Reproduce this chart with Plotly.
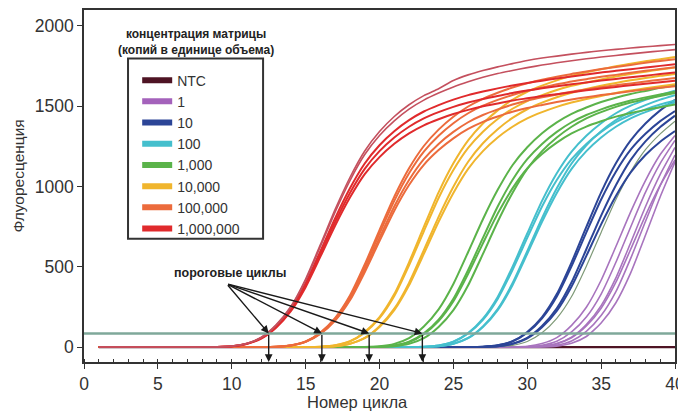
import plotly.graph_objects as go

# ---------------- data ----------------
cycles = list(range(1, 41))

groups = ["NTC", "1", "10", "100", "1,000", "10,000", "100,000", "1,000,000"]
group_colors = ["#4e1424", "#a462bb", "#2c4597", "#45bfcd", "#5bb34a", "#f0b52d", "#ec6b3c", "#e02a2c"]

threshold = 85
threshold_cycles = [12.5, 16.1, 19.3, 22.9]
label_anchor = [9.65, 394]

ntc_curves = [
    [0, 0, 0, 0, 0, 0, 0, 0, 0, 0, 0, 0, 0, 0, 0, 0, 0, 0, 0, 0,
     0, 0, 0, 0, 0, 0, 0, 0, 0, 0, 0, 0, 0, 0, 0, 0, 0, 0, 0, 0],
]

copies_1 = [
    [0, 0, 0, 0, 0, 0, 0, 0, 0, 0, 0, 0, 0, 0, 0, 0, 0, 0, 0, 0, 0, 0, 0, 0, 0, 0, 0, 0,
     1, 5, 22, 59, 135, 248, 416, 626, 842, 1037, 1199, 1318],
    [0, 0, 0, 0, 0, 0, 0, 0, 0, 0, 0, 0, 0, 0, 0, 0, 0, 0, 0, 0, 0, 0, 0, 0, 0, 0, 0, 0, 0,
     2, 11, 36, 94, 187, 330, 528, 748, 963, 1144, 1287],
    [0, 0, 0, 0, 0, 0, 0, 0, 0, 0, 0, 0, 0, 0, 0, 0, 0, 0, 0, 0, 0, 0, 0, 0, 0, 0, 0, 0, 0,
     1, 6, 22, 62, 140, 258, 431, 650, 874, 1075, 1243],
    [0, 0, 0, 0, 0, 0, 0, 0, 0, 0, 0, 0, 0, 0, 0, 0, 0, 0, 0, 0, 0, 0, 0, 0, 0, 0, 0, 0, 0, 0,
     2, 12, 38, 98, 196, 345, 552, 782, 1006, 1196],
    [0, 0, 0, 0, 0, 0, 0, 0, 0, 0, 0, 0, 0, 0, 0, 0, 0, 0, 0, 0, 0, 0, 0, 0, 0, 0, 0, 0, 0,
     1, 5, 21, 58, 131, 242, 404, 609, 819, 1008, 1166],
    [0, 0, 0, 0, 0, 0, 0, 0, 0, 0, 0, 0, 0, 0, 0, 0, 0, 0, 0, 0, 0, 0, 0, 0, 0, 0, 0, 0, 0, 0,
     1, 6, 24, 66, 150, 276, 462, 696, 936, 1152],
]

stray_curve = [0, 0, 0, 0, 0, 0, 0, 0, 0, 0, 0, 0, 0, 0, 0, 0, 0, 0, 0, 0, 0, 0, 0, 0, 0, 0, 0,
               2, 11, 35, 89, 179, 315, 504, 714, 919, 1092, 1229, 1328, 1407]

copies_10 = [
    [0, 0, 0, 0, 0, 0, 0, 0, 0, 0, 0, 0, 0, 0, 0, 0, 0, 0, 0, 0, 0, 0, 0, 0, 0, 0,
     2, 11, 35, 89, 179, 315, 504, 714, 919, 1092, 1229, 1328, 1407, 1470],
    [0, 0, 0, 0, 0, 0, 0, 0, 0, 0, 0, 0, 0, 0, 0, 0, 0, 0, 0, 0, 0, 0, 0, 0, 0, 0,
     2, 11, 36, 94, 187, 330, 528, 748, 963, 1144, 1287, 1392, 1474, 1540],
    [0, 0, 0, 0, 0, 0, 0, 0, 0, 0, 0, 0, 0, 0, 0, 0, 0, 0, 0, 0, 0, 0, 0, 0, 0, 0,
     1, 5, 21, 58, 131, 242, 404, 609, 819, 1008, 1166, 1281, 1370, 1441],
    [0, 0, 0, 0, 0, 0, 0, 0, 0, 0, 0, 0, 0, 0, 0, 0, 0, 0, 0, 0, 0, 0, 0, 0, 0, 0,
     1, 5, 20, 54, 123, 225, 377, 568, 764, 941, 1088, 1196, 1279, 1345],
]

copies_100 = [
    [0, 0, 0, 0, 0, 0, 0, 0, 0, 0, 0, 0, 0, 0, 0, 0, 0, 0, 0, 0, 0, 0,
     2, 10, 33, 85, 170, 300, 480, 680, 875, 1040, 1170, 1265, 1340, 1400, 1445, 1480, 1510, 1535],
    [0, 0, 0, 0, 0, 0, 0, 0, 0, 0, 0, 0, 0, 0, 0, 0, 0, 0, 0, 0, 0, 0,
     1, 5, 21, 57, 129, 237, 397, 597, 803, 989, 1143, 1257, 1344, 1413, 1467, 1507, 1541, 1569],
    [0, 0, 0, 0, 0, 0, 0, 0, 0, 0, 0, 0, 0, 0, 0, 0, 0, 0, 0, 0, 0, 0,
     1, 5, 20, 55, 125, 230, 385, 580, 780, 960, 1110, 1220, 1305, 1372, 1424, 1463, 1496, 1523],
    [0, 0, 0, 0, 0, 0, 0, 0, 0, 0, 0, 0, 0, 0, 0, 0, 0, 0, 0, 0, 0, 0,
     2, 10, 34, 88, 177, 312, 499, 707, 910, 1082, 1217, 1316, 1394, 1456, 1503, 1539, 1570, 1596],
]

copies_1000 = [
    [0, 0, 0, 0, 0, 0, 0, 0, 0, 0, 0, 0, 0, 0, 0, 0, 0, 0, 0,
     2, 10, 33, 85, 170, 300, 480, 680, 875, 1040, 1170, 1265, 1340, 1400, 1445, 1480, 1510, 1535,
     1555, 1573, 1590],
    [0, 0, 0, 0, 0, 0, 0, 0, 0, 0, 0, 0, 0, 0, 0, 0, 0, 0, 0,
     2, 10, 31, 81, 162, 285, 456, 646, 831, 988, 1112, 1202, 1273, 1330, 1373, 1406, 1435, 1458,
     1477, 1494, 1511],
    [0, 0, 0, 0, 0, 0, 0, 0, 0, 0, 0, 0, 0, 0, 0, 0, 0, 0,
     1, 5, 20, 56, 128, 235, 393, 592, 796, 979, 1132, 1244, 1331, 1399, 1452, 1492, 1526, 1553,
     1576, 1595, 1614, 1629],
    [0, 0, 0, 0, 0, 0, 0, 0, 0, 0, 0, 0, 0, 0, 0, 0, 0, 0, 0,
     1, 5, 20, 55, 125, 230, 385, 580, 780, 960, 1110, 1220, 1305, 1372, 1424, 1463, 1496, 1523,
     1545, 1564, 1582],
]

copies_10000 = [
    [0, 0, 0, 0, 0, 0, 0, 0, 0, 0, 0, 0, 0, 0, 0,
     2, 11, 35, 90, 180, 318, 509, 721, 928, 1102, 1240, 1341, 1420, 1484, 1532, 1569, 1601, 1627,
     1648, 1667, 1685, 1700, 1715, 1728, 1741],
    [0, 0, 0, 0, 0, 0, 0, 0, 0, 0, 0, 0, 0, 0, 0,
     2, 11, 36, 94, 187, 330, 528, 748, 963, 1144, 1287, 1392, 1474, 1540, 1590, 1628, 1661, 1689,
     1711, 1730, 1749, 1764, 1780, 1793, 1806],
    [0, 0, 0, 0, 0, 0, 0, 0, 0, 0, 0, 0, 0, 0, 0,
     1, 5, 21, 57, 130, 239, 400, 603, 811, 998, 1154, 1269, 1357, 1427, 1481, 1522, 1556, 1584,
     1607, 1627, 1645, 1661, 1675, 1689, 1701],
    [0, 0, 0, 0, 0, 0, 0, 0, 0, 0, 0, 0, 0, 0, 0,
     1, 5, 20, 55, 125, 230, 385, 580, 780, 960, 1110, 1220, 1305, 1372, 1424, 1463, 1496, 1523,
     1545, 1564, 1582, 1597, 1611, 1624, 1636],
]

copies_100000 = [
    [0, 0, 0, 0, 0, 0, 0, 0, 0, 0, 0, 0,
     2, 10, 33, 85, 170, 300, 480, 680, 875, 1040, 1170, 1265, 1340, 1400, 1445, 1480, 1510, 1535,
     1555, 1573, 1590, 1604, 1618, 1630, 1642, 1654, 1665, 1675],
    [0, 0, 0, 0, 0, 0, 0, 0, 0, 0, 0, 0,
     2, 10, 34, 88, 177, 312, 499, 707, 910, 1082, 1217, 1316, 1394, 1456, 1503, 1539, 1570, 1596,
     1617, 1636, 1654, 1668, 1683, 1695, 1708, 1720, 1732, 1742],
    [0, 0, 0, 0, 0, 0, 0, 0, 0, 0, 0, 0,
     2, 11, 35, 91, 182, 321, 514, 728, 936, 1113, 1252, 1354, 1434, 1498, 1546, 1584, 1616, 1642,
     1664, 1683, 1701, 1716, 1731, 1744, 1757, 1770, 1782, 1792],
    [0, 0, 0, 0, 0, 0, 0, 0, 0, 0, 0, 0,
     2, 10, 32, 82, 165, 291, 466, 660, 849, 1009, 1135, 1227, 1300, 1358, 1402, 1436, 1465, 1489,
     1508, 1526, 1542, 1556, 1569, 1581, 1593, 1604, 1615, 1625],
]

copies_1000000 = [
    [0, 0, 0, 0, 0, 0, 0, 0,
     1, 5, 20, 55, 125, 230, 385, 580, 780, 960, 1110, 1220, 1305, 1372, 1424, 1463, 1496, 1523,
     1545, 1564, 1582, 1597, 1611, 1624, 1636, 1648, 1660, 1670, 1680, 1690, 1700, 1710],
    [0, 0, 0, 0, 0, 0, 0, 0,
     1, 5, 19, 53, 121, 223, 373, 563, 757, 931, 1077, 1183, 1266, 1331, 1381, 1419, 1451, 1477,
     1499, 1517, 1535, 1549, 1563, 1575, 1587, 1599, 1610, 1620, 1630, 1639, 1649, 1659],
    [0, 0, 0, 0, 0, 0, 0, 0,
     1, 5, 21, 57, 129, 237, 397, 597, 803, 989, 1143, 1257, 1344, 1413, 1467, 1507, 1541, 1569,
     1591, 1611, 1629, 1645, 1659, 1673, 1685, 1697, 1710, 1720, 1730, 1741, 1751, 1761],
]

copies_1000000_upper = [
    [0, 0, 0, 0, 0, 0, 0, 0,
     1, 5, 22, 59, 135, 248, 416, 626, 842, 1037, 1199, 1318, 1409, 1482, 1538, 1582, 1620, 1652,
     1680, 1703, 1722, 1740, 1756, 1770, 1783, 1795, 1806, 1816, 1826, 1835, 1844, 1852],
    [0, 0, 0, 0, 0, 0, 0, 0,
     1, 6, 22, 61, 138, 253, 424, 638, 858, 1056, 1221, 1342, 1436, 1509, 1566, 1609, 1660, 1695,
     1722, 1745, 1765, 1785, 1800, 1812, 1824, 1835, 1845, 1854, 1862, 1870, 1877, 1884],
]

# ---------------- figure ----------------
FONT = "Liberation Sans, Arial, Helvetica, sans-serif"
AX = "#333333"
fig = go.Figure()

# legend entries (thick swatches)
for name, col in zip(groups, group_colors):
    fig.add_trace(go.Scatter(x=[None], y=[None], mode="lines", name=name,
                             line=dict(color=col, width=6), hoverinfo="skip"))


def add_curves(curves, color, width=1.8, opacity=1.0):
    for ys in curves:
        fig.add_trace(go.Scatter(x=cycles, y=ys, mode="lines", showlegend=False,
                                 line=dict(color=color, width=width, shape="spline", smoothing=0.6),
                                 opacity=opacity, hoverinfo="skip"))


add_curves(ntc_curves, group_colors[0], width=2.2)
add_curves(copies_1, "#a874be", width=1.6)
add_curves([stray_curve], "#7f9a78", width=1.2)
add_curves(copies_10, group_colors[2], width=2.0)
add_curves(copies_100, group_colors[3], width=2.0)
add_curves(copies_1000, group_colors[4], width=2.0)
add_curves(copies_10000, group_colors[5], width=2.0)
add_curves(copies_100000, group_colors[6], width=2.0)
add_curves(copies_1000000, group_colors[7], width=2.0)
add_curves(copies_1000000_upper, "#c4505e", width=1.6)

# threshold line
fig.add_shape(type="line", xref="x", yref="y", x0=0, x1=40, y0=threshold, y1=threshold,
              line=dict(color="#7fa89a", width=2.5), layer="above")

# arrows to threshold cycles
for ct in threshold_cycles:
    fig.add_annotation(x=ct, y=threshold, ax=label_anchor[0], ay=label_anchor[1],
                       xref="x", yref="y", axref="x", ayref="y", text="", showarrow=True,
                       arrowhead=2, arrowsize=1.1, arrowwidth=1.4, arrowcolor="#1a1a1a", standoff=0)
    fig.add_annotation(x=ct, y=-93, ax=ct, ay=threshold,
                       xref="x", yref="y", axref="x", ayref="y", text="", showarrow=True,
                       arrowhead=2, arrowsize=1.1, arrowwidth=1.4, arrowcolor="#1a1a1a", standoff=0)

fig.add_annotation(x=9.9, y=460, xref="x", yref="y", text="<b>пороговые циклы</b>",
                   xanchor="center", yanchor="middle",
                   showarrow=False, font=dict(size=12.5, color="#222", family=FONT))

# legend title
fig.add_annotation(x=0.1895, y=0.910, xref="paper", yref="paper",
                   text="<b>концентрация матрицы<br>(копий в единице объема)</b>",
                   xanchor="center", yanchor="middle",
                   showarrow=False, font=dict(size=12, color="#222", family=FONT))

# legend box
fig.add_shape(type="rect", xref="paper", yref="paper", x0=0.0745, x1=0.303, y0=0.350, y1=0.862,
              line=dict(color=AX, width=2), fillcolor="rgba(0,0,0,0)")

# axis titles
fig.add_annotation(x=0.462, y=-0.113, xref="paper", yref="paper", text="Номер цикла",
                   xanchor="center", yanchor="middle",
                   showarrow=False, font=dict(size=16.5, color="#333", family=FONT))
fig.add_annotation(x=-0.111, y=0.528, xref="paper", yref="paper", text="Флуоресценция",
                   xanchor="center", yanchor="middle",
                   textangle=-90, showarrow=False, font=dict(size=15.5, color="#333", family=FONT))

# the page body keeps its default 8px margin, so the figure is sized to fit 686x412 after it
fig.update_layout(
    width=678, height=404,
    margin=dict(l=76, r=11, t=0, b=50),
    paper_bgcolor="white", plot_bgcolor="white",
    font=dict(family=FONT, color="#333"),
    showlegend=True,
    legend=dict(x=0.09, y=0.845, xanchor="left", yanchor="top", borderwidth=0,
                bgcolor="rgba(255,255,255,0)", font=dict(size=14, color="#333", family=FONT),
                itemwidth=30, tracegroupgap=0),
)
fig.update_xaxes(range=[0, 40], tickvals=[0, 5, 10, 15, 20, 25, 30, 35, 40],
                 ticks="outside", ticklen=5, tickwidth=1.3, tickcolor=AX,
                 showline=True, linecolor=AX, linewidth=1.6, mirror=True,
                 showgrid=False, zeroline=False, tickfont=dict(size=17.5, color="#333"),
                 minor=dict(dtick=1, ticks="inside", ticklen=3, tickcolor=AX, showgrid=False))
fig.update_yaxes(range=[-93, 2099], tickvals=[0, 500, 1000, 1500, 2000],
                 ticks="outside", ticklen=5, tickwidth=1.3, tickcolor=AX,
                 showline=True, linecolor=AX, linewidth=1.6, mirror=True,
                 showgrid=False, zeroline=False, tickfont=dict(size=17.5, color="#333"))

fig.write_html("out.html")
